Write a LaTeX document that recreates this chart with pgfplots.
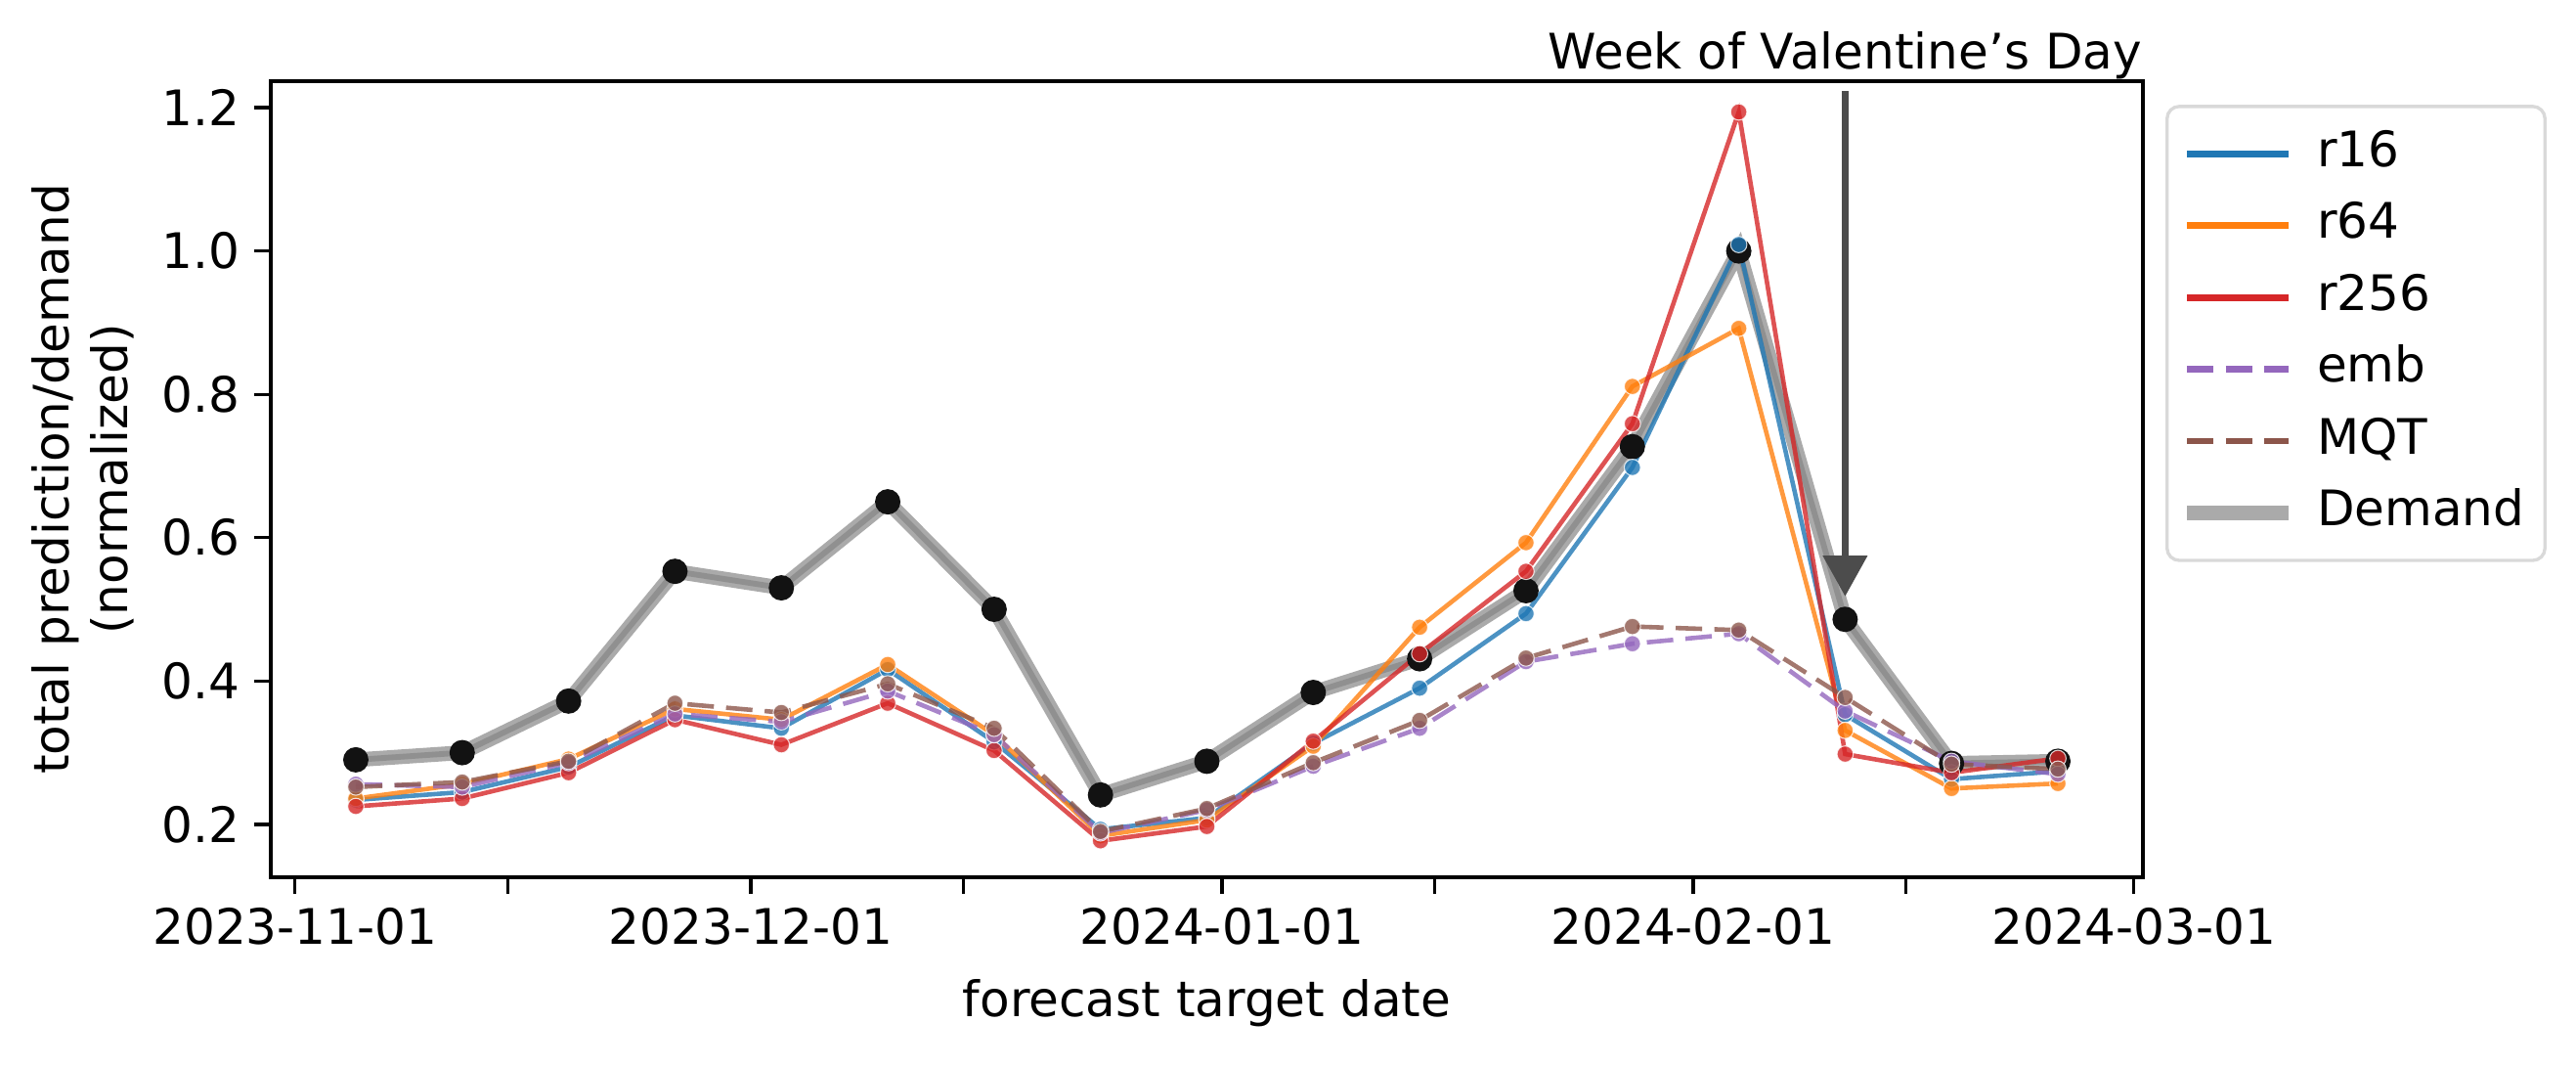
\documentclass[border=0pt]{standalone}
\usepackage{fontspec}
\setmainfont{DejaVu Sans}
\usepackage{pgfplots}
\usepackage{pgfplotstable}
\pgfplotsset{compat=1.18}
\usetikzlibrary{arrows.meta}

\definecolor{c16}{HTML}{1F77B4}
\definecolor{c64}{HTML}{FF7F0E}
\definecolor{c256}{HTML}{D62728}
\definecolor{cemb}{HTML}{9467BD}
\definecolor{cmqt}{HTML}{8C564B}
\definecolor{dlight}{HTML}{AAAAAA}
\definecolor{ddark}{HTML}{909090}
\definecolor{legframe}{HTML}{D9D9D9}

% day 0 = 2023-11-01, weekly points from 2023-11-05
\pgfplotstableread{
day demand r16 r64 r256 emb mqt
4   0.290 0.234 0.236 0.225 0.256 0.252
11  0.300 0.245 0.256 0.236 0.252 0.259
18  0.372 0.280 0.291 0.272 0.286 0.288
25  0.553 0.352 0.361 0.346 0.354 0.369
32  0.530 0.334 0.346 0.311 0.343 0.356
39  0.650 0.416 0.423 0.369 0.386 0.396
46  0.500 0.315 0.325 0.303 0.325 0.334
53  0.241 0.193 0.184 0.177 0.188 0.190
60  0.288 0.209 0.206 0.197 0.220 0.222
67  0.384 0.313 0.309 0.316 0.281 0.286
74  0.431 0.390 0.475 0.438 0.334 0.345
81  0.526 0.494 0.593 0.553 0.427 0.432
88  0.727 0.698 0.811 0.759 0.452 0.476
95  1.000 1.009 0.892 1.194 0.466 0.471
102 0.486 0.353 0.331 0.298 0.358 0.377
109 0.285 0.263 0.250 0.272 0.288 0.284
116 0.288 0.274 0.257 0.292 0.270 0.277
}\weekly

\newcommand{\fs}{\fontsize{12pt}{14.4pt}\selectfont}

\begin{document}
\begin{tikzpicture}
\begin{axis}[
    scale only axis,
    width=459.2pt, height=195.2pt,
    xmin=-1.6, xmax=121.6,
    ymin=0.126, ymax=1.237,
    axis line style={line width=0.8pt},
    tick style={line width=0.8pt, black},
    major tick length=4pt,
    tick align=outside,
    xtick pos=bottom, ytick pos=left,
    xtick={0,14,30,44,61,75,92,106,121},
    xticklabels={2023-11-01,,2023-12-01,,2024-01-01,,2024-02-01,,2024-03-01},
    ytick={0.2,0.4,0.6,0.8,1.0,1.2},
    yticklabel style={/pgf/number format/.cd,fixed,fixed zerofill,precision=1,assume math mode=true},
    tick label style={font=\fs},
    xlabel={forecast target date},
    ylabel={total prediction/demand\\(normalized)},
    label style={font=\fs},
    ylabel style={align=center},
    xlabel shift=1.5pt,
    clip=false,
    legend cell align=left,
    legend image code/.code={\draw[#1] (0pt,0pt) -- (25pt,0pt);},
    legend style={at={(1,1)}, anchor=north west, xshift=5.5pt, yshift=-5.8pt,
        draw=legframe, line width=0.8pt, rounded corners=3pt, font=\fs,
        inner xsep=3pt, inner ysep=4pt, row sep=2.3pt,
        nodes={text height=8.8pt, text depth=2.5pt},
        /tikz/every odd column/.style={column sep=3pt}},
]
% demand
\addplot[forget plot, dlight, line width=3.6pt] table[x=day, y=demand]{\weekly};
\addplot[forget plot, ddark, line width=1.4pt, mark=*, mark size=2.4pt,
    mark options={fill=black!93, draw=black!93}] table[x=day, y=demand]{\weekly};
% models
\addplot[forget plot, c16, line width=1.1pt, opacity=0.8, mark=*, mark size=2pt,
    mark options={fill=c16, draw=white, line width=0.25pt}] table[x=day, y=r16]{\weekly};
\addplot[forget plot, c64, line width=1.1pt, opacity=0.8, mark=*, mark size=2pt,
    mark options={fill=c64, draw=white, line width=0.25pt}] table[x=day, y=r64]{\weekly};
\addplot[forget plot, c256, line width=1.1pt, opacity=0.8, mark=*, mark size=2pt,
    mark options={fill=c256, draw=white, line width=0.25pt}] table[x=day, y=r256]{\weekly};
\addplot[forget plot, cemb, line width=1.1pt, opacity=0.8, dash pattern=on 6.5pt off 3pt,
    mark=*, mark size=2pt, mark options={solid, fill=cemb, draw=white, line width=0.25pt}]
    table[x=day, y=emb]{\weekly};
\addplot[forget plot, cmqt, line width=1.1pt, opacity=0.8, dash pattern=on 6.5pt off 3pt,
    mark=*, mark size=2pt, mark options={solid, fill=cmqt, draw=white, line width=0.25pt}]
    table[x=day, y=mqt]{\weekly};

\addlegendimage{c16, line width=1.6pt}\addlegendentry{r16}
\addlegendimage{c64, line width=1.6pt}\addlegendentry{r64}
\addlegendimage{c256, line width=1.6pt}\addlegendentry{r256}
\addlegendimage{cemb, line width=1.6pt, dash pattern=on 6.5pt off 3pt}\addlegendentry{emb}
\addlegendimage{cmqt, line width=1.6pt, dash pattern=on 6.5pt off 3pt}\addlegendentry{MQT}
\addlegendimage{dlight, line width=3.8pt}\addlegendentry{Demand}

% annotation
\draw[black!70, line width=1.6pt, -{Triangle[width=10.6pt, length=10pt]}]
    (axis cs:102,1.223) -- (axis cs:102,0.518);
\node[anchor=base, font=\fs, yshift=2.9pt] at (axis cs:102,1.237) {Week of Valentine’s Day};
\end{axis}
\pgfresetboundingbox
\path[use as bounding box] ([xshift=-66.4pt, yshift=-46.3pt]current axis.south west)
    rectangle ([xshift=106.2pt, yshift=19.9pt]current axis.north east);
\end{tikzpicture}
\end{document}
